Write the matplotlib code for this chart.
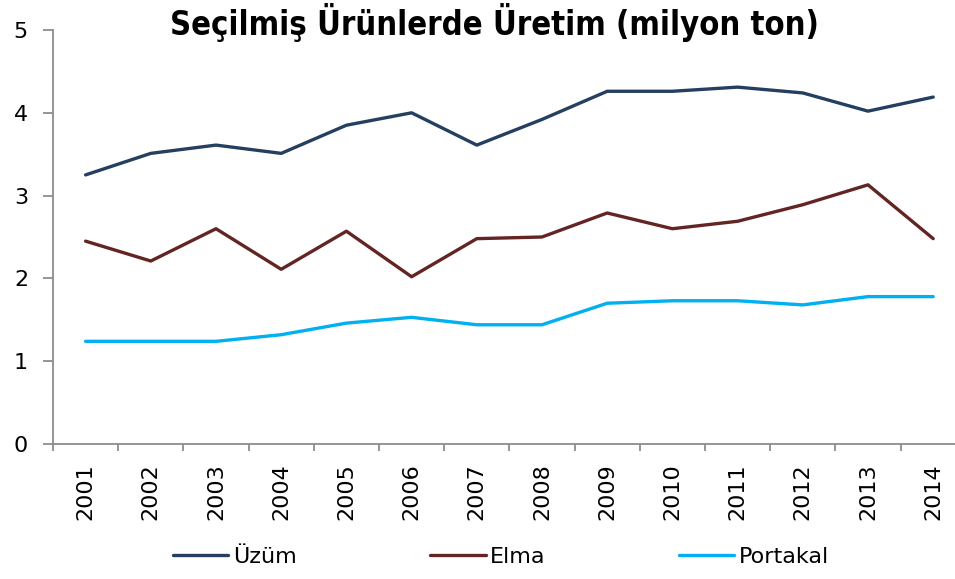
import numpy as np
import matplotlib
matplotlib.use('Agg')
import matplotlib.pyplot as plt

years = ['2001', '2002', '2003', '2004', '2005', '2006', '2007',
         '2008', '2009', '2010', '2011', '2012', '2013', '2014']
uzum = [3.25, 3.51, 3.61, 3.51, 3.85, 4.00, 3.61, 3.92, 4.26, 4.26, 4.31, 4.24, 4.02, 4.19]
elma = [2.45, 2.21, 2.60, 2.11, 2.57, 2.02, 2.48, 2.50, 2.79, 2.60, 2.69, 2.89, 3.13, 2.48]
portakal = [1.24, 1.24, 1.24, 1.32, 1.46, 1.53, 1.44, 1.44, 1.70, 1.73, 1.73, 1.68, 1.78, 1.78]

W, H = 955, 579
fig = plt.figure(figsize=(W / 100, H / 100), dpi=100)
ax = fig.add_axes([53 / W, (H - 444) / H, (955 - 53) / W, (444 - 30) / H])

x = np.arange(len(years))
ax.plot(x, uzum, color='#243F60', lw=2.4, label='Üzüm', solid_capstyle='round')
ax.plot(x, elma, color='#632523', lw=2.4, label='Elma', solid_capstyle='round')
ax.plot(x, portakal, color='#00B0F0', lw=2.4, label='Portakal', solid_capstyle='round')

ax.set_ylim(0, 5)
ax.set_xlim(-0.5, -0.5 + (955 - 53) / 65.2)
ax.set_yticks(range(6))
ax.set_xticks(x)
ax.set_xticklabels(years, rotation=90)
ax.set_xticks(np.arange(-0.5, 13.5, 1), minor=True)

for s in ['top', 'right']:
    ax.spines[s].set_visible(False)
for s in ['left', 'bottom']:
    ax.spines[s].set_color('#8c8c8c')
    ax.spines[s].set_linewidth(1.3)

ax.tick_params(axis='y', direction='out', length=7, width=1.3, color='#8c8c8c',
               labelsize=16, pad=11)
ax.tick_params(axis='x', which='major', length=0, labelsize=16, pad=14)
ax.tick_params(axis='x', which='minor', direction='out', length=5, width=1.3, color='#8c8c8c')

fig.text(494 / W, 1 - 23 / H, 'Seçilmiş Ürünlerde Üretim (milyon ton)',
         ha='center', va='center', fontsize=23.5, fontweight='bold',
         fontstretch='condensed', family='DejaVu Sans')

fig.legend(loc='center', bbox_to_anchor=(501 / W, 1 - 557 / H), ncol=3,
           frameon=False, fontsize=16, handlelength=2.5, handletextpad=0.2,
           columnspacing=6.0)

fig.savefig('out.png', dpi=100)
